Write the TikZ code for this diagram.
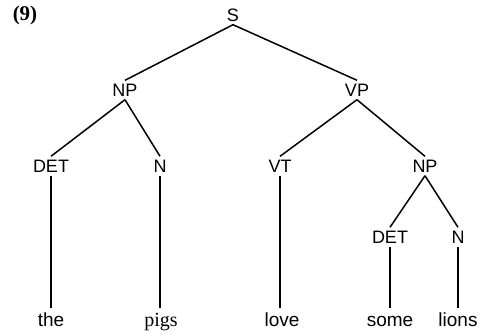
\documentclass[tikz,border=0pt]{standalone}
\usepackage{fontspec}
\setmainfont{Liberation Serif}
\setsansfont{Liberation Sans}
\begin{document}
\begin{tikzpicture}[x=1pt,y=-1pt,
  cat/.style={font=\sffamily\fontsize{18}{18}\selectfont, inner xsep=0pt, inner ysep=3pt, text height=13pt, text depth=0pt},
  word/.style={font=\sffamily\fontsize{19}{19}\selectfont, inner xsep=0pt, inner ysep=4pt, text height=14pt, text depth=4pt},
  edge/.style={line width=1.5pt}]
\useasboundingbox (0,0) rectangle (488,333);
\node[font=\rmfamily\bfseries\fontsize{21}{21}\selectfont, inner sep=0pt] (ex) at (25,15) {(9)};
\node[cat] (s) at (233,15) {S};
\node[cat] (np1) at (125,90) {NP};
\node[cat] (vp) at (357,90) {VP};
\node[cat] (det1) at (51,166) {DET};
\node[cat] (n1) at (160,166) {N};
\node[cat] (vt) at (280,166) {VT};
\node[cat] (np2) at (425,166) {NP};
\node[cat] (det2) at (390,237) {DET};
\node[cat] (n2) at (458,237) {N};
\node[word, anchor=base] (w1) at (51,326) {the};
\node[word, anchor=base, font=\rmfamily\fontsize{20}{20}\selectfont] (w2) at (161,326) {pigs};
\node[word, anchor=base] (w3) at (282,326) {love};
\node[word, anchor=base] (w4) at (390,326) {some};
\node[word, anchor=base] (w5) at (458,326) {lions};
\draw[edge] (s.south) -- (np1.north);
\draw[edge] (s.south) -- (vp.north);
\draw[edge] (np1.south) -- (det1.north);
\draw[edge] (np1.south) -- (n1.north);
\draw[edge] (vp.south) -- (vt.north);
\draw[edge] (vp.south) -- (np2.north);
\draw[edge] (np2.south) -- (det2.north);
\draw[edge] (np2.south) -- (n2.north);
\draw[edge] (det1.south) -- (det1.south |- w1.north);
\draw[edge] (n1.south) -- (n1.south |- w2.north);
\draw[edge] (vt.south) -- (vt.south |- w3.north);
\draw[edge] (det2.south) -- (det2.south |- w4.north);
\draw[edge] (n2.south) -- (n2.south |- w5.north);
\end{tikzpicture}
\end{document}
